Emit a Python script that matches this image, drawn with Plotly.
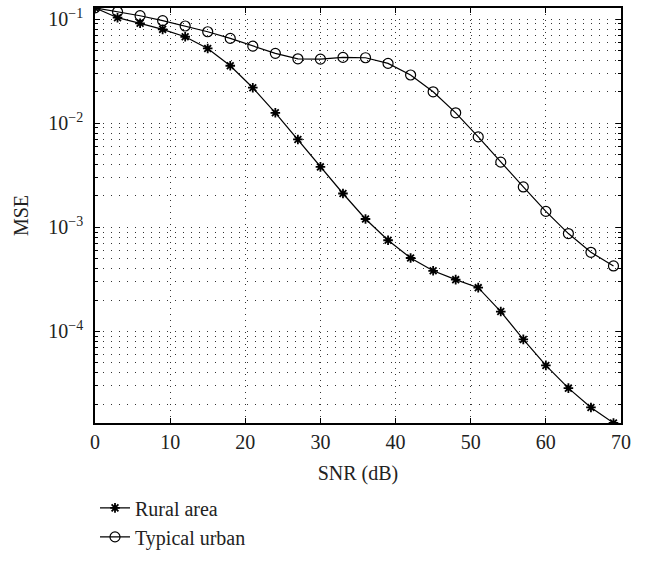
import plotly.graph_objects as go

snr = [0, 3, 6, 9, 12, 15, 18, 21, 24, 27, 30, 33, 36, 39, 42, 45, 48, 51, 54, 57, 60, 63, 66, 69]
rural = [0.128, 0.103, 0.091, 0.0796, 0.0676, 0.0522, 0.0356, 0.0219, 0.01257, 0.00697, 0.0038,
         0.00211, 0.0012, 0.00075, 0.000507, 0.000382, 0.000314, 0.000263, 0.000155, 8.37e-5,
         4.71e-5, 2.85e-5, 1.86e-5, 1.32e-5]
urban = [0.128, 0.1175, 0.1076, 0.0964, 0.0857, 0.0755, 0.0652, 0.0549, 0.0468, 0.0415, 0.0412,
         0.0428, 0.0425, 0.0375, 0.0290, 0.0200, 0.01257, 0.00738, 0.00422, 0.00244, 0.00142,
         0.00087, 0.000575, 0.000425]
names = ["Rural area", "Typical urban"]
x_ticks = [0, 10, 20, 30, 40, 50, 60, 70]
y_ticks = [1e-4, 1e-3, 1e-2, 1e-1]
y_ticktext = ["10<sup>\u22124</sup>", "10<sup>\u22123</sup>", "10<sup>\u22122</sup>", "10<sup>\u22121</sup>"]
y_minor = [k * 10 ** e for e in range(-5, 0) for k in range(2, 10)]

FONT = "Liberation Serif"
FS = 20
TXT = "#222"

fig = go.Figure()
fig.add_trace(go.Scatter(x=snr, y=rural, name=names[0], mode="lines+markers",
                         line=dict(color="black", width=1.2),
                         marker=dict(symbol="asterisk-open", size=8, color="black",
                                     line=dict(color="black", width=1.8))))
fig.add_trace(go.Scatter(x=snr, y=urban, name=names[1], mode="lines+markers",
                         line=dict(color="black", width=1.2),
                         marker=dict(symbol="circle-open", size=10, color="black",
                                     line=dict(color="black", width=1.2))))

fig.update_layout(
    width=646, height=562,
    margin=dict(l=95, r=25, t=8, b=139, autoexpand=False),
    paper_bgcolor="white", plot_bgcolor="white",
    font=dict(family=FONT, size=FS, color=TXT),
    showlegend=True,
    legend=dict(x=0, y=0.131, xanchor="left", yanchor="top", yref="container",
                bgcolor="rgba(0,0,0,0)",
                font=dict(family=FONT, size=FS, color=TXT), tracegroupgap=0,
                itemwidth=30),
)

fig.update_xaxes(
    range=[0, 70], tickvals=x_ticks, ticks="inside", ticklen=5, tickcolor="black",
    tickfont=dict(family=FONT, size=FS, color=TXT),
    showline=True, linecolor="black", linewidth=1.5, mirror="ticks",
    showgrid=True, gridcolor="#333", griddash="1px,5px", gridwidth=1,
    zeroline=False, automargin=False,
    title=dict(text="SNR (dB)", standoff=14, font=dict(family=FONT, size=FS, color=TXT)),
)
fig.update_yaxes(
    type="log", range=[-4.88, -0.894], tickvals=y_ticks, ticktext=y_ticktext,
    ticks="inside", ticklen=5, tickcolor="black",
    tickfont=dict(family=FONT, size=FS, color=TXT), ticklabelstandoff=6,
    showline=True, linecolor="black", linewidth=1.5, mirror="ticks",
    showgrid=True, gridcolor="#333", griddash="1px,7px", gridwidth=1,
    zeroline=False, automargin=False,
    minor=dict(tickvals=y_minor, ticks="inside", ticklen=3, tickcolor="black",
               showgrid=True, gridcolor="#333", griddash="1px,7px", gridwidth=1),
    title=dict(text="MSE", standoff=14, font=dict(family=FONT, size=FS, color=TXT)),
)

fig.write_html("out.html")
